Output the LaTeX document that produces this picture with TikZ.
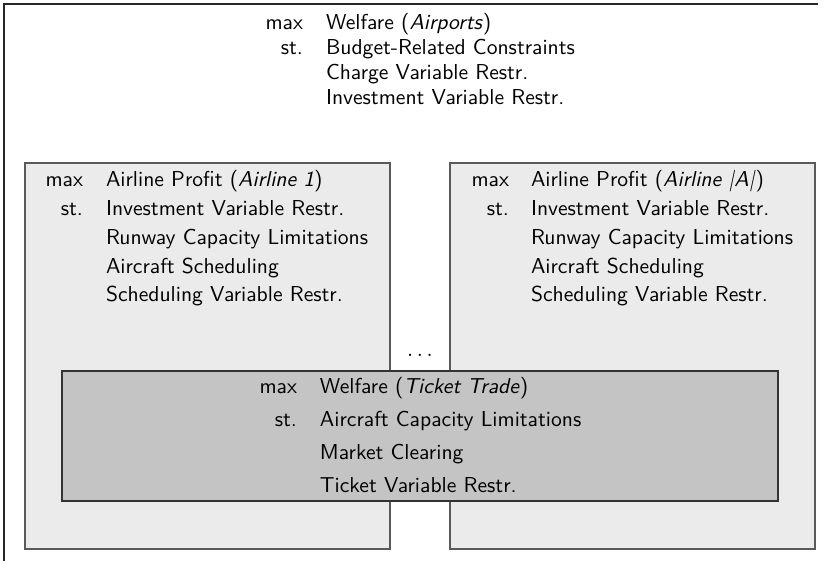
\documentclass[tikz,border=0pt]{standalone}
\begin{document}
\begin{tikzpicture}[x=0.5pt,y=-0.5pt,
  every node/.style={inner sep=0pt,outer sep=0pt,font=\sffamily\fontsize{10.8}{13}\selectfont},
  kw/.style={anchor=base east},
  tx/.style={anchor=base west},
  frameline/.style={draw=black!85,line width=0.6pt},
  subbox/.style={draw=black!65,fill=black!8,line width=0.6pt},
  tradebox/.style={draw=black!80,fill=black!23,line width=0.6pt}]
\useasboundingbox (0,0) rectangle (827,561);
% outer frame (top and left visible)
\draw[frameline] (818,4) -- (4,4) -- (4,561);
% top block
\node[kw] (tmax) at (303,30) {max};
\node[tx] (t1) at (326,30) {Welfare (\textit{Airports})};
\node[kw] (tst) at (303,55) {st.};
\node[tx] (t2) at (326,55) {Budget-Related Constraints};
\node[tx] (t3) at (326,80) {Charge Variable Restr.};
\node[tx] (t4) at (326,105) {Investment Variable Restr.};
% airline boxes
\draw[subbox] (25,163) rectangle (390,549);
\draw[subbox] (450,163) rectangle (815,549);
\node[kw] (lmax) at (83,187) {max};
\node[tx] (l1) at (106,187) {Airline Profit (\textit{Airline 1})};
\node[kw] (lst) at (83,215.7) {st.};
\node[tx] (l2) at (106,215.7) {Investment Variable Restr.};
\node[tx] (l3) at (106,244.4) {Runway Capacity Limitations};
\node[tx] (l4) at (106,273.1) {Aircraft Scheduling};
\node[tx] (l5) at (106,301.8) {Scheduling Variable Restr.};
\node[kw] (rmax) at (509,187) {max};
\node[tx] (r1) at (531,187) {Airline Profit (\textit{Airline |A|})};
\node[kw] (rst) at (509,215.7) {st.};
\node[tx] (r2) at (531,215.7) {Investment Variable Restr.};
\node[tx] (r3) at (531,244.4) {Runway Capacity Limitations};
\node[tx] (r4) at (531,273.1) {Aircraft Scheduling};
\node[tx] (r5) at (531,301.8) {Scheduling Variable Restr.};
\node[anchor=base] (dots) at (420,357) {$\ldots$};
% ticket trade box
\draw[tradebox] (62,371) rectangle (778,501);
\node[kw] (bmax) at (297,394) {max};
\node[tx] (b1) at (320,394) {Welfare (\textit{Ticket Trade})};
\node[kw] (bst) at (297,427) {st.};
\node[tx] (b2) at (320,427) {Aircraft Capacity Limitations};
\node[tx] (b3) at (320,460) {Market Clearing};
\node[tx] (b4) at (320,493) {Ticket Variable Restr.};
\end{tikzpicture}
\end{document}
